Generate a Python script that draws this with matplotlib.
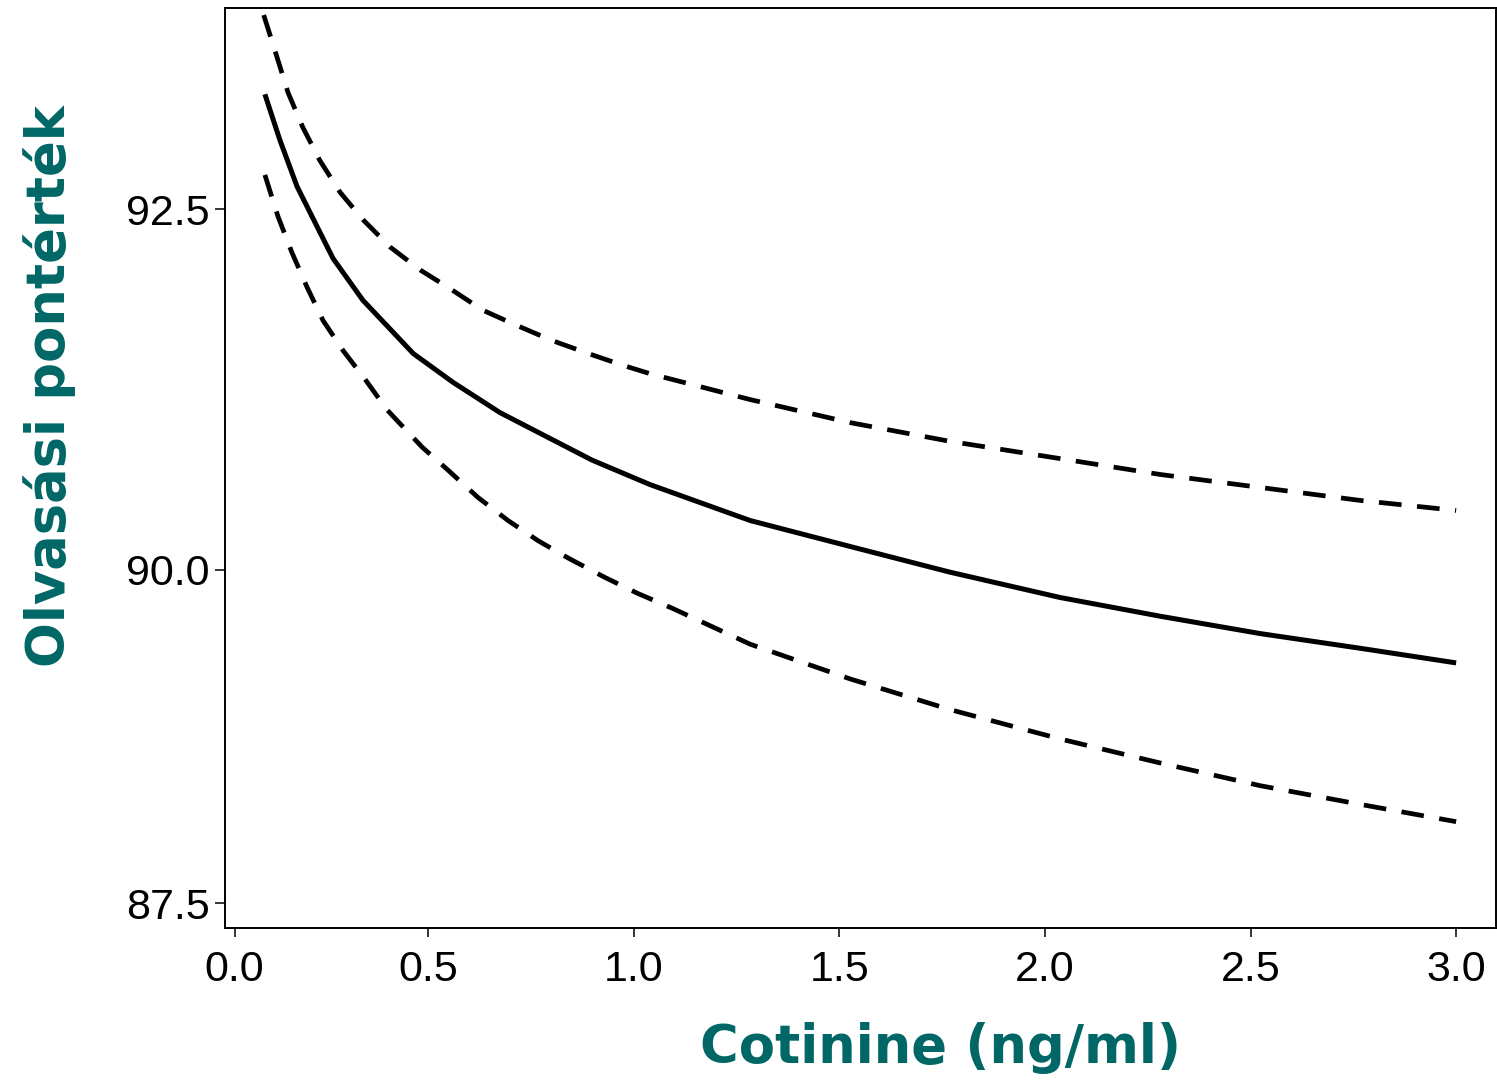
import numpy as np
import matplotlib
matplotlib.use('Agg')
import matplotlib.pyplot as plt

# fitted curve and 95% band
x_fit = [0.078, 0.117, 0.161, 0.213, 0.254, 0.331, 0.461, 0.560, 0.674, 0.898,
         1.039, 1.283, 1.526, 1.769, 2.037, 2.280, 2.523, 2.766, 3.0]
y_fit = [93.30, 92.98, 92.66, 92.38, 92.16, 91.87, 91.50, 91.30, 91.09, 90.76,
         90.59, 90.34, 90.16, 89.98, 89.79, 89.65, 89.52, 89.41, 89.30]

x_upper = [0.075, 0.109, 0.138, 0.176, 0.220, 0.272, 0.331, 0.401, 0.479, 0.553,
           0.633, 0.711, 0.801, 0.889, 0.971, 1.039, 1.283, 1.526, 1.769, 2.037,
           2.280, 2.523, 2.766, 3.0]
y_upper = [93.85, 93.56, 93.31, 93.07, 92.84, 92.62, 92.43, 92.24, 92.08, 91.95,
           91.80, 91.70, 91.59, 91.50, 91.42, 91.36, 91.18, 91.02, 90.89, 90.77,
           90.66, 90.57, 90.48, 90.41]

x_lower = [0.078, 0.112, 0.148, 0.187, 0.228, 0.280, 0.337, 0.393, 0.484, 0.548,
           0.621, 0.694, 0.767, 0.840, 0.930, 1.010, 1.093, 1.283, 1.526, 1.769,
           2.037, 2.280, 2.523, 2.766, 3.0]
y_lower = [92.74, 92.45, 92.20, 91.96, 91.73, 91.52, 91.32, 91.11, 90.85, 90.69,
           90.50, 90.34, 90.20, 90.08, 89.94, 89.82, 89.71, 89.44, 89.18, 88.95,
           88.73, 88.55, 88.38, 88.24, 88.11]

x_ticks = [0.0, 0.5, 1.0, 1.5, 2.0, 2.5, 3.0]
y_ticks = [87.5, 90.0, 92.5]

# the original axes are not evenly spaced -> piecewise linear scales
x_knots, x_pos = [0.0, 0.5, 3.0], [234.7, 428.3, 1456.0]
y_knots, y_pos = [87.5, 90.0, 92.5], [-903.0, -569.5, -209.5]


def _pw(v, src, dst):
    v = np.asarray(v, dtype=float)
    out = np.interp(v, src, dst)
    lo_slope = (dst[1] - dst[0]) / (src[1] - src[0])
    hi_slope = (dst[-1] - dst[-2]) / (src[-1] - src[-2])
    out = np.where(v < src[0], dst[0] + (v - src[0]) * lo_slope, out)
    out = np.where(v > src[-1], dst[-1] + (v - src[-1]) * hi_slope, out)
    return out


teal = '#006666'
tick_font = 'Liberation Sans'
label_font = ['DejaVu Sans']

fig = plt.figure(figsize=(14.97, 10.84), dpi=100)
ax = fig.add_axes([225 / 1497, 156 / 1084, 1271 / 1497, 920 / 1084])

ax.set_xscale('function', functions=(lambda v: _pw(v, x_knots, x_pos),
                                     lambda v: _pw(v, x_pos, x_knots)))
ax.set_yscale('function', functions=(lambda v: _pw(v, y_knots, y_pos),
                                     lambda v: _pw(v, y_pos, y_knots)))

ax.plot(x_fit, y_fit, color='black', lw=3.6, solid_capstyle='butt',
        solid_joinstyle='round')
ax.plot(x_upper, y_upper, color='black', lw=3.4, ls=(0, (4.8, 3.3)))
ax.plot(x_lower, y_lower, color='black', lw=3.4, ls=(0, (4.8, 3.3)))

ax.set_xlim(-0.025, 3.097)
ax.set_ylim(87.313, 93.899)

ax.set_xticks(x_ticks)
ax.set_xticklabels(['%.1f' % v for v in x_ticks])
ax.set_yticks(y_ticks)
ax.set_yticklabels(['%.1f' % v for v in y_ticks])
ax.minorticks_off()

for lab in ax.get_xticklabels() + ax.get_yticklabels():
    lab.set_fontfamily(tick_font)
    lab.set_fontsize(31)
ax.tick_params(axis='x', direction='out', length=6.5, width=1.1, pad=9)
ax.tick_params(axis='y', direction='out', length=7, width=1.1, pad=4)

for sp in ax.spines.values():
    sp.set_linewidth(1.4)

# axis titles, placed where they sit in the original
fig.text(940 / 1497, 1 - 1048 / 1084, 'Cotinine (ng/ml)', fontsize=38,
         fontweight='bold', color=teal, family=label_font,
         ha='center', va='center')
fig.text(50 / 1497, 1 - 386 / 1084, 'Olvasási pontérték', fontsize=38,
         fontweight='bold', color=teal, family=label_font,
         ha='center', va='center', rotation=90)

fig.savefig('out.png', dpi=100)
